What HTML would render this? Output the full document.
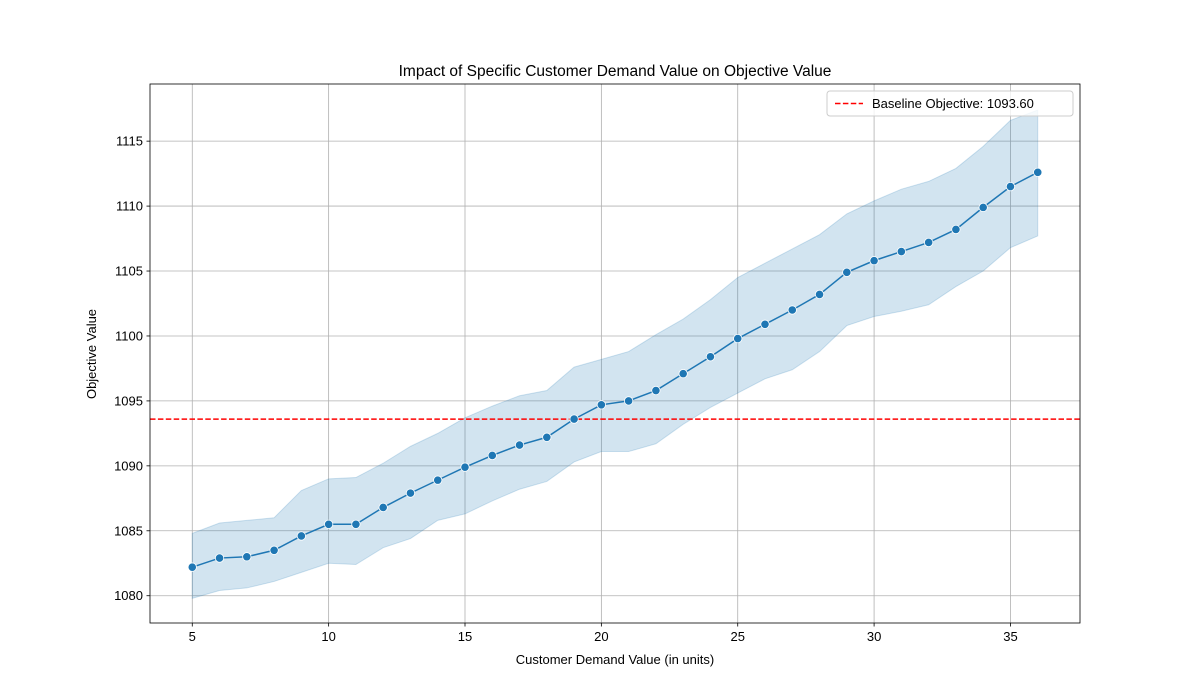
<!DOCTYPE html>
<html><head><meta charset="utf-8"><style>body{margin:0;background:#fff}svg{display:block;font-family:"Liberation Sans","DejaVu Sans",sans-serif}</style></head>
<body>
<svg id="chart" width="1200" height="700" xmlns="http://www.w3.org/2000/svg"></svg>
<script>
const demandValues=[5,6,7,8,9,10,11,12,13,14,15,16,17,18,19,20,21,22,23,24,25,26,27,28,29,30,31,32,33,34,35,36];
const meanObjective=[1082.2,1082.9,1083.0,1083.5,1084.6,1085.5,1085.5,1086.8,1087.9,1088.9,1089.9,1090.8,1091.6,1092.2,1093.6,1094.7,1095.0,1095.8,1097.1,1098.4,1099.8,1100.9,1102.0,1103.2,1104.9,1105.8,1106.5,1107.2,1108.2,1109.9,1111.5,1112.6];
const upperBand=[1084.8,1085.6,1085.8,1086.0,1088.1,1089.0,1089.1,1090.2,1091.5,1092.5,1093.7,1094.6,1095.4,1095.8,1097.6,1098.2,1098.8,1100.1,1101.3,1102.8,1104.5,1105.6,1106.7,1107.8,1109.4,1110.4,1111.3,1111.9,1112.9,1114.6,1116.6,1117.4];
const lowerBand=[1079.8,1080.4,1080.6,1081.1,1081.8,1082.5,1082.4,1083.7,1084.4,1085.8,1086.3,1087.3,1088.2,1088.8,1090.3,1091.1,1091.1,1091.7,1093.2,1094.5,1095.6,1096.7,1097.4,1098.8,1100.8,1101.5,1101.9,1102.4,1103.8,1105.0,1106.8,1107.7];
const xTicks=[5,10,15,20,25,30,35];
const yTicks=[1080,1085,1090,1095,1100,1105,1110,1115];
const baseline=1093.6;

const NS="http://www.w3.org/2000/svg",svg=document.getElementById('chart');
const L=150,R=1080,T=84,B=623,xMin=3.45,xMax=37.55,yMin=1077.9,yMax=1119.4;
const sx=v=>L+(v-xMin)/(xMax-xMin)*(R-L), sy=v=>B-(v-yMin)/(yMax-yMin)*(B-T);
function el(t,a,p){const e=document.createElementNS(NS,t);for(const k in a)e.setAttribute(k,a[k]);(p||svg).appendChild(e);return e;}
const clip=el('clipPath',{id:'c'});el('rect',{x:L,y:T,width:R-L,height:B-T},clip);
// grid
xTicks.forEach(v=>{const g=el('line',{x1:sx(v),x2:sx(v),y1:T,y2:B,stroke:'#b0b0b0','stroke-width':0.8});

const tk=el('line',{x1:sx(v),x2:sx(v),y1:B,y2:B+3.5,stroke:'#000','stroke-width':0.8});

const t=el('text',{x:sx(v),y:B+18,'text-anchor':'middle','font-size':13});t.textContent=v;
});
yTicks.forEach(v=>{const g=el('line',{x1:L,x2:R,y1:sy(v),y2:sy(v),stroke:'#b0b0b0','stroke-width':0.8});

const tk=el('line',{x1:L-3.5,x2:L,y1:sy(v),y2:sy(v),stroke:'#000','stroke-width':0.8});

const t=el('text',{x:L-7,y:sy(v)+4.5,'text-anchor':'end','font-size':13});t.textContent=v;
});
// band
let d='';demandValues.forEach((x,i)=>d+=(i?'L':'M')+sx(x)+','+sy(upperBand[i]));
for(let i=demandValues.length-1;i>=0;i--)d+='L'+sx(demandValues[i])+','+sy(lowerBand[i]);
const band=el('path',{d:d+'Z',fill:'#1f77b4','fill-opacity':0.2,stroke:'#1f77b4','stroke-opacity':0.2,'clip-path':'url(#c)'});

// baseline
const bl=el('line',{x1:L,x2:R,y1:sy(baseline),y2:sy(baseline),stroke:'#ff0000','stroke-width':1.5,'stroke-dasharray':'5.5,2.4'});

// line
const ln=el('polyline',{points:demandValues.map((x,i)=>sx(x)+','+sy(meanObjective[i])).join(' '),fill:'none',stroke:'#1f77b4','stroke-width':1.5});

demandValues.forEach((x,i)=>{const c=el('circle',{cx:sx(x),cy:sy(meanObjective[i]),r:4.2,fill:'#1f77b4',stroke:'#fff','stroke-width':0.8});
});
// frame
const fr=el('rect',{x:L,y:T,width:R-L,height:B-T,fill:'none',stroke:'#000','stroke-width':0.8});

// titles
let t=el('text',{x:615,y:76,'text-anchor':'middle','font-size':15.5});t.textContent='Impact of Specific Customer Demand Value on Objective Value';

t=el('text',{x:615,y:664,'text-anchor':'middle','font-size':13});t.textContent='Customer Demand Value (in units)';

t=el('text',{x:96,y:354,'text-anchor':'middle','font-size':13,transform:'rotate(-90 96 354)'});t.textContent='Objective Value';

// legend
const lg=el('g',{});
el('rect',{x:827,y:91,width:246,height:25,rx:3,fill:'#fff','fill-opacity':0.8,stroke:'#ccc'},lg);
el('line',{x1:835,x2:863,y1:103.5,y2:103.5,stroke:'#ff0000','stroke-width':1.5,'stroke-dasharray':'5.5,2.4'},lg);
t=el('text',{x:872,y:108,'font-size':13},lg);t.textContent='Baseline Objective: 1093.60';

</script>
</body></html>
